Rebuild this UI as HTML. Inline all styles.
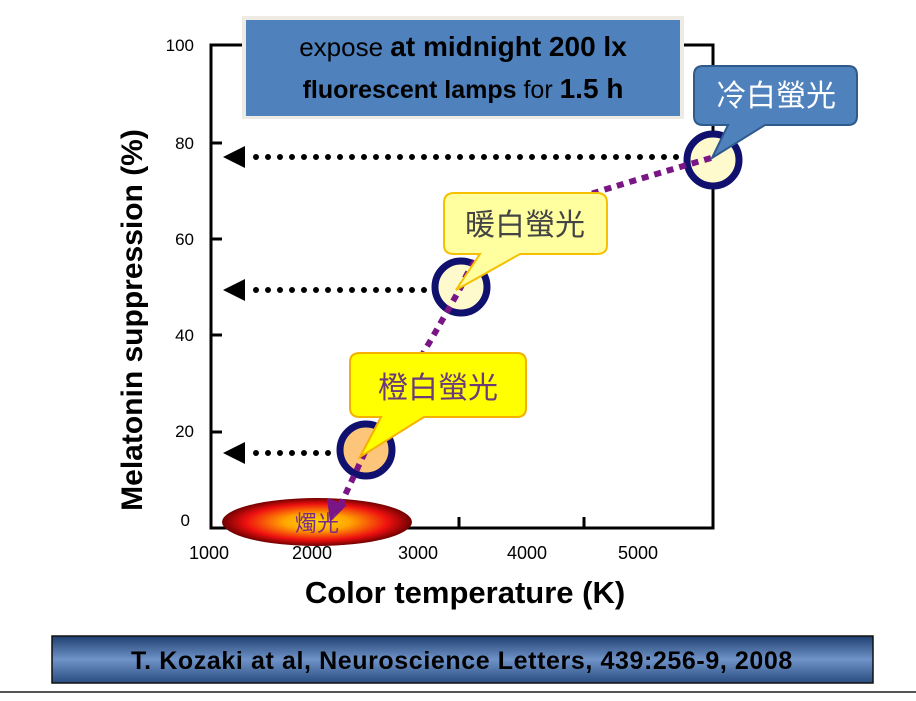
<!DOCTYPE html>
<html><head><meta charset="utf-8"><style>
body{margin:0;background:#fff;width:916px;height:696px;overflow:hidden;font-family:"Liberation Sans","Noto Sans CJK TC",sans-serif}
</style></head><body>
<svg width="916" height="696" xmlns="http://www.w3.org/2000/svg" font-family="Liberation Sans, Noto Sans CJK TC, sans-serif">
<defs>
<radialGradient id="fire" cx="50%" cy="50%" r="50%">
<stop offset="0" stop-color="#ffd700"/><stop offset="0.35" stop-color="#ffa500"/><stop offset="0.75" stop-color="#ee1010"/><stop offset="1" stop-color="#700000"/>
</radialGradient>
<linearGradient id="bar" x1="0" y1="0" x2="0" y2="1">
<stop offset="0" stop-color="#1f3f70"/><stop offset="0.5" stop-color="#6f93c8"/><stop offset="1" stop-color="#2a4c80"/>
</linearGradient>
</defs>
<rect x="211" y="45" width="502" height="483" fill="none" stroke="#000" stroke-width="3"/>
<g stroke="#000" stroke-width="3">
<line x1="211" y1="143" x2="222" y2="143"/><line x1="211" y1="239" x2="222" y2="239"/>
<line x1="211" y1="335" x2="222" y2="335"/><line x1="211" y1="432" x2="222" y2="432"/>
<line x1="459" y1="528" x2="459" y2="517"/><line x1="584" y1="528" x2="584" y2="517"/>
</g>
<g font-size="17" text-anchor="end">
<text x="194" y="51">100</text><text x="194" y="149">80</text><text x="194" y="245">60</text>
<text x="194" y="341">40</text><text x="194" y="437">20</text><text x="190" y="526">0</text>
</g>
<g font-size="18" text-anchor="middle">
<text x="209" y="559">1000</text><text x="312" y="559">2000</text><text x="418" y="559">3000</text>
<text x="527" y="559">4000</text><text x="638" y="559">5000</text>
</g>
<text x="465" y="603" font-size="31" font-weight="bold" text-anchor="middle">Color temperature (K)</text>
<text transform="translate(142,320) rotate(-90)" font-size="30" font-weight="bold" text-anchor="middle">Melatonin suppression (%)</text>
<rect x="242" y="16" width="442" height="103" fill="#eeeae4"/>
<rect x="246" y="20" width="434" height="96" fill="#4f81bd"/>
<text x="463" y="56" font-size="26" text-anchor="middle"><tspan>expose </tspan><tspan font-weight="bold" font-size="28">at midnight 200 lx</tspan></text>
<text x="463" y="98" font-size="25" text-anchor="middle"><tspan font-weight="bold">fluorescent lamps</tspan><tspan> for </tspan><tspan font-weight="bold" font-size="28">1.5 h</tspan></text>
<g fill="#000">
<polygon points="223,157 245,146 245,168"/><polygon points="223,290 245,279 245,301"/><polygon points="223,453 245,442 245,464"/>
</g>
<g stroke="#000" stroke-width="6" stroke-linecap="round" stroke-dasharray="0 12">
<line x1="256" y1="157" x2="692" y2="157"/>
<line x1="256" y1="290" x2="430" y2="290"/>
<line x1="256" y1="453" x2="330" y2="453"/>
</g>
<ellipse cx="317" cy="522" rx="95" ry="24" fill="url(#fire)"/>
<circle cx="713" cy="160" r="26" fill="#fffacd" stroke="#10106e" stroke-width="7"/>
<circle cx="461" cy="287" r="26" fill="#fffacd" stroke="#10106e" stroke-width="7"/>
<circle cx="366" cy="450" r="26" fill="#fcc57a" stroke="#10106e" stroke-width="7"/>
<path d="M711,158 Q600,190 535,212 M535,212 Q480,240 461,287 Q420,360 366,450 L340,506" fill="none" stroke="#7a1585" stroke-width="6" stroke-dasharray="7 6"/>
<polygon points="330,522 327,498 347,505" fill="#7a1585"/>
<text x="317" y="531" font-size="22" fill="#7a2a8a" text-anchor="middle">燭光</text>
<path d="M703,66 H848 Q857,66 857,75 V116 Q857,125 848,125 H765 L712,158 L728,125 H703 Q694,125 694,116 V75 Q694,66 703,66 Z" fill="#4f81bd" stroke="#2e5a8c" stroke-width="2"/>
<text x="776" y="106" font-size="30" fill="#fff" text-anchor="middle">冷白螢光</text>
<path d="M454,193 H597 Q607,193 607,203 V245 Q607,254 597,254 H520 L456,290 L480,254 H454 Q444,254 444,245 V203 Q444,193 454,193 Z" fill="#ffffa0" stroke="#f5c000" stroke-width="2"/>
<text x="525" y="235" font-size="30" fill="#444" text-anchor="middle">暖白螢光</text>
<path d="M360,353 H517 Q526,353 526,362 V408 Q526,417 517,417 H424 L360,457 L381,417 H360 Q350,417 350,408 V362 Q350,353 360,353 Z" fill="#ffff00" stroke="#f5b000" stroke-width="2"/>
<text x="438" y="398" font-size="30" fill="#6a3a7a" text-anchor="middle">橙白螢光</text>
<rect x="52" y="636" width="821" height="47" fill="url(#bar)" stroke="#111" stroke-width="1.5"/>
<text x="462" y="669" font-size="25" font-weight="bold" text-anchor="middle" fill="#000" letter-spacing="0.6">T. Kozaki at al, Neuroscience Letters, 439:256-9, 2008</text>
<line x1="0" y1="692" x2="916" y2="692" stroke="#555" stroke-width="2"/>
</svg>
</body></html>
